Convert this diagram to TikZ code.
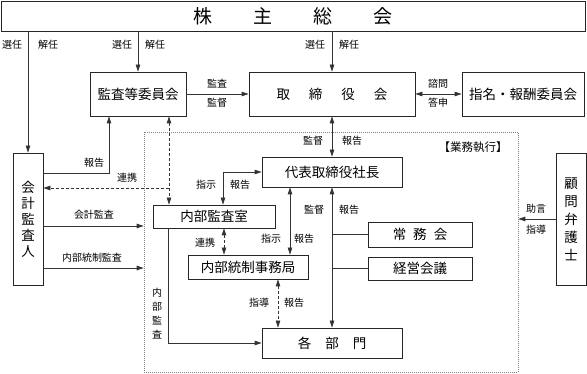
\documentclass[tikz,border=0pt]{standalone}
\usepackage{fontspec}
\setmainfont{Noto Sans CJK JP}
\usetikzlibrary{arrows.meta}
\begin{document}
\begin{tikzpicture}[x=1pt,y=-1pt,
  bx/.style={draw=black!85,line width=0.8pt,inner sep=0pt,font=\fontsize{13.5}{16}\selectfont},
  lbl/.style={inner sep=0pt,font=\fontsize{10}{12}\selectfont},
  ln/.style={draw=black!80,line width=0.8pt},
  arr/.style={ln,-{Triangle[length=7pt,width=4.5pt]}},
  darr/.style={ln,{Triangle[length=7pt,width=4.5pt]}-{Triangle[length=7pt,width=4.5pt]}},
  dsh/.style={dash pattern=on 3pt off 2pt}]
\useasboundingbox (0,0) rectangle (587,374);
% frame
\node[draw=gray,line width=0.6pt,dash pattern=on 1pt off 1pt,minimum width=374pt,minimum height=240pt,inner sep=0pt] (frame) at (331,252) {};
\node[lbl,font=\fontsize{11.5}{13}\selectfont] (gyomu) at (473,147) {【業務執行】};
% boxes
\node[bx,minimum width=584pt,minimum height=30pt,font=\fontsize{19}{22}\selectfont] (top) at (293,16) {株\hspace{41pt}主\hspace{41pt}総\hspace{41pt}会};
\node[bx,minimum width=96pt,minimum height=44pt] (kansa) at (138,94) {監査等委員会};
\node[bx,minimum width=166pt,minimum height=44pt] (tori) at (332,94) {取\hspace{19pt}締\hspace{19pt}役\hspace{19pt}会};
\node[bx,minimum width=122pt,minimum height=44pt] (shimei) at (523,94) {指名・報酬委員会};
\node[bx,minimum width=140pt,minimum height=30pt] (daihyo) at (332,172) {代表取締役社長};
\node[bx,minimum width=30pt,minimum height=132pt,align=center] (kaikei) at (28,219) {会\\計\\監\\査\\人};
\node[bx,minimum width=122pt,minimum height=23pt] (naibu) at (214,216.5) {内部監査室};
\node[bx,minimum width=120pt,minimum height=24pt] (tosei) at (248,267) {内部統制事務局};
\node[bx,minimum width=104pt,minimum height=25pt] (jomu) at (420,234.5) {常\hspace{7pt}務\hspace{7pt}会};
\node[bx,minimum width=104pt,minimum height=23pt] (keiei) at (420,268.5) {経営会議};
\node[bx,minimum width=140pt,minimum height=30pt] (kakubu) at (332,343) {各\hspace{14pt}部\hspace{14pt}門};
\node[bx,minimum width=30pt,minimum height=132pt,align=center,font=\fontsize{13.5}{18}\selectfont] (komon) at (571,219) {顧\\問\\弁\\護\\士};
% coordinates
\coordinate (r1) at (109,173);
\coordinate (d1) at (169,188);
\coordinate (s1) at (223,172);
\coordinate (a1) at (0,226);
\coordinate (a2) at (0,268);
\coordinate (c1) at (224,0);
\coordinate (c2) at (290,0);
\coordinate (c3) at (278,0);
\coordinate (c4) at (168,343);
% connectors
\draw[arr] (top.south -| kaikei) -- (kaikei.north);
\draw[arr] (top.south -| kansa) -- (kansa.north);
\draw[arr] (top.south -| tori) -- (tori.north);
\draw[arr] (kansa.east) -- (tori.west);
\draw[darr] (tori.east) -- (shimei.west);
\draw[darr] (tori.south) -- (daihyo.north);
\draw[arr] (kaikei.east |- r1) -| (kansa.south -| r1);
\draw[darr,dsh] (kansa.south -| d1) -- (naibu.north -| d1);
\draw[arr,dsh] (d1) -- (kaikei.east |- d1);
\draw[darr] (daihyo.west) -| (naibu.north -| s1);
\draw[arr] (kaikei.east |- a1) -- (frame.west |- a1);
\draw[arr] (kaikei.east |- a2) -- (frame.west |- a2);
\draw[darr,dsh] (naibu.south -| c1) -- (tosei.north -| c1);
\draw[darr] (daihyo.south -| c2) -- (tosei.north -| c2);
\draw[darr] (daihyo.south) -- (kakubu.north);
\draw[ln] (jomu.west) -- (jomu.west -| kakubu);
\draw[ln] (keiei.west) -- (keiei.west -| kakubu);
\draw[darr,dsh] (tosei.south -| c3) -- (kakubu.north -| c3);
\draw[arr] (naibu.south -| c4) |- (kakubu.west);
\draw[arr] (komon.west) -- (frame.east |- komon.west);
% labels
\node[lbl] (l1) at (12,45) {選任};
\node[lbl] (l2) at (48,45) {解任};
\node[lbl] (l3) at (122,45) {選任};
\node[lbl] (l4) at (155,45) {解任};
\node[lbl] (l5) at (315,45) {選任};
\node[lbl] (l6) at (349,45) {解任};
\node[lbl] (l7) at (217,84) {監査};
\node[lbl] (l8) at (217,103) {監督};
\node[lbl] (l9) at (438,84) {諮問};
\node[lbl] (l10) at (438,103) {答申};
\node[lbl] (l11) at (313,141) {監督};
\node[lbl] (l12) at (352,141) {報告};
\node[lbl] (l13) at (94,163) {報告};
\node[lbl] (l14) at (127,178) {連携};
\node[lbl] (l15) at (206,185) {指示};
\node[lbl] (l16) at (240,185) {報告};
\node[lbl] (l17) at (94,215) {会計監査};
\node[lbl] (l18) at (205,243) {連携};
\node[lbl] (l19) at (271,239) {指示};
\node[lbl] (l20) at (304,239) {報告};
\node[lbl] (l21) at (314,210) {監督};
\node[lbl] (l22) at (349,210) {報告};
\node[lbl] (l23) at (92,258) {内部統制監査};
\node[lbl,align=center,font=\fontsize{10}{14}\selectfont] (l24) at (157,314) {内\\部\\監\\査};
\node[lbl] (l25) at (259,303) {指導};
\node[lbl] (l26) at (294,303) {報告};
\node[lbl] (l27) at (536,209) {助言};
\node[lbl] (l28) at (536,230) {指導};
\end{tikzpicture}
\end{document}
